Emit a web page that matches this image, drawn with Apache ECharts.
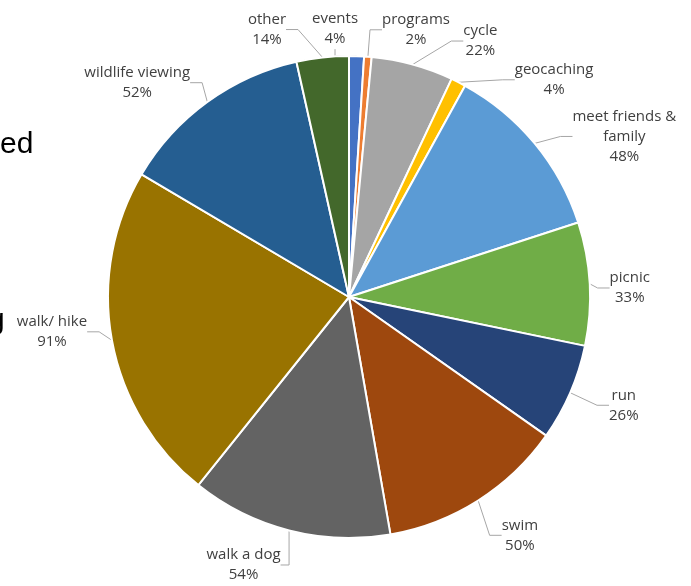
<!DOCTYPE html>
<html>
<head>
<meta charset="utf-8">
<script src="https://cdn.jsdelivr.net/npm/echarts@6/dist/echarts.min.js"></script>
<style>html,body{margin:0;padding:0;background:#fff;}#c{width:691px;height:586px;}</style>
</head>
<body>
<div id="c"></div>
<script>
const categories = ['events', 'programs', 'cycle', 'geocaching', 'meet friends &\nfamily', 'picnic', 'run', 'swim', 'walk a dog', 'walk/ hike', 'wildlife viewing', 'other'];
const values = [4, 2, 22, 4, 48, 33, 26, 50, 54, 91, 52, 14];
const colors = ['#4472C4', '#ED7D31', '#A5A5A5', '#FFC000', '#5B9BD5', '#70AD47', '#264478', '#9E480E', '#636363', '#997300', '#255E91', '#43682B'];

// label placement tweaks (text offsets only, in px)
const labelNudge = [[-62, -13], [-4, -13], [30, -10], [33, 10], [10, 2], [-11, 5], [9, 7], [-1, 23], [12, 21], [6, -11], [8, -8], [-18, -14]];

const chart = echarts.init(document.getElementById('c'), null, {renderer: 'canvas'});
chart.setOption({
  animation: false,
  color: colors,
  graphic: [
    {type: 'text', left: 0, top: 130, style: {text: 'ed', font: '30px "Liberation Sans"', fill: '#000'}},
    {type: 'text', left: -12, top: 306, style: {text: 'g', font: '30px "Liberation Sans"', fill: '#000'}}
  ],
  series: [{
    type: 'pie',
    center: [349, 297],
    radius: 241,
    startAngle: 90,
    clockwise: true,
    avoidLabelOverlap: false,
    itemStyle: {borderColor: '#fff', borderWidth: 2},
    label: {
      show: true,
      position: 'outside',
      formatter: p => p.name + '\n' + p.value + '%',
      fontFamily: 'Open Sans',
      fontSize: 15,
      color: '#404040',
      lineHeight: 20
    },
    labelLine: {show: true, length: 14, length2: 12, lineStyle: {color: '#a6a6a6', width: 1}},
    labelLayout: function (p) {
      const n = labelNudge[p.dataIndex];
      return {
        hideOverlap: false,
        x: p.labelRect.x + p.labelRect.width / 2 + n[0],
        y: p.labelRect.y + p.labelRect.height / 2 + n[1],
        align: 'center',
        verticalAlign: 'middle'
      };
    },
    data: categories.map((n, i) => ({name: n, value: values[i]}))
  }]
});
</script>
</body>
</html>
